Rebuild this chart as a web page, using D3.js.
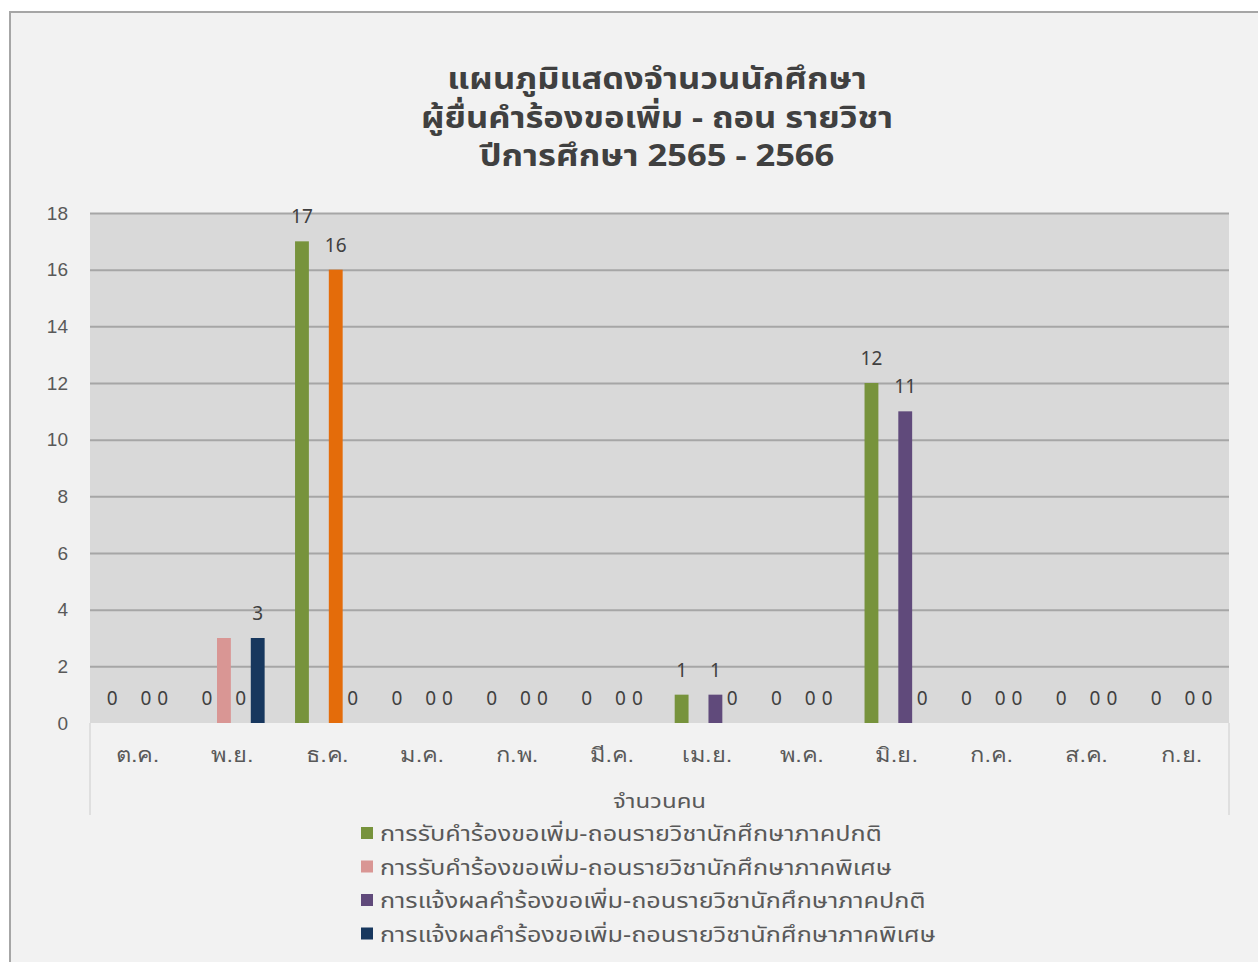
<!DOCTYPE html>
<meta charset="utf-8">
<style>
  body { margin: 0; background: #fff; }
  svg { display: block; font-family: Tahoma, "Noto Sans", "Noto Sans Thai", sans-serif; }
</style>
<body>
<div id="chart"></div>
<script src="https://d3js.org/d3.v7.min.js"></script>
<script>

// data
var months = ["ต.ค.", "พ.ย.", "ธ.ค.", "ม.ค.", "ก.พ.", "มี.ค.", "เม.ย.", "พ.ค.", "มิ.ย.", "ก.ค.", "ส.ค.", "ก.ย."];
var seriesNames = [
  "การรับคำร้องขอเพิ่ม-ถอนรายวิชานักศึกษาภาคปกติ",
  "การรับคำร้องขอเพิ่ม-ถอนรายวิชานักศึกษาภาคพิเศษ",
  "การแจ้งผลคำร้องขอเพิ่ม-ถอนรายวิชานักศึกษาภาคปกติ",
  "การแจ้งผลคำร้องขอเพิ่ม-ถอนรายวิชานักศึกษาภาคพิเศษ"
];
var regularIn  = [0, 0, 17, 0, 0, 0, 1, 0, 12, 0, 0, 0];
var specialIn  = [0, 3, 0, 0, 0, 0, 0, 0, 0, 0, 0, 0];
var regularOut = [0, 0, 16, 0, 0, 0, 1, 0, 11, 0, 0, 0];
var specialOut = [0, 3, 0, 0, 0, 0, 0, 0, 0, 0, 0, 0];
var seriesColors = ["#77933c", "#d99694", "#604a7b", "#17375e"];
var showLabels = [true, false, true, true];
var yTicks = [0, 2, 4, 6, 8, 10, 12, 14, 16, 18];
var titleLines = ["แผนภูมิแสดงจำนวนนักศึกษา", "ผู้ยื่นคำร้องขอเพิ่ม - ถอน รายวิชา", "ปีการศึกษา 2565 - 2566"];
var axisTitle = "จำนวนคน";

var allSeries = [regularIn, specialIn, regularOut, specialOut];

var W = 1258, H = 962;
var plot = {left: 90, right: 1229, top: 213, bottom: 723};

// the Thai fallback font is narrower than the original one, so stretch text a bit
function widen(sel, k) {
  sel.each(function() {
    var n = this.getComputedTextLength();
    d3.select(this).attr("textLength", n * k).attr("lengthAdjust", "spacingAndGlyphs");
  });
}

var svg = d3.select("#chart").append("svg")
  .attr("width", W)
  .attr("height", H);

// chart area
svg.append("rect")
  .attr("x", 10).attr("y", 12)
  .attr("width", W + 20).attr("height", H + 20)
  .attr("fill", "#f2f2f2")
  .attr("stroke", "#a6a6a6")
  .attr("stroke-width", 2);

// title
svg.append("g").selectAll("text")
  .data(titleLines)
  .enter().append("text")
  .attr("x", 657)
  .attr("y", function(d, i) { return 89 + i * 38.5; })
  .attr("text-anchor", "middle")
  .style("font-size", "30px")
  .style("font-weight", "bold")
  .style("fill", "#404040")
  .text(function(d) { return d; })
  .call(widen, 1.15);

// scales
var x0 = d3.scaleBand()
  .domain(months)
  .range([plot.left, plot.right]);

var x1 = d3.scaleBand()
  .domain(d3.range(allSeries.length))
  .range([0, x0.bandwidth()])
  .paddingInner(0.18)
  .paddingOuter(0.9);

var y = d3.scaleLinear()
  .domain([0, 18])
  .range([plot.bottom, plot.top]);

// plot background
svg.append("rect")
  .attr("x", plot.left).attr("y", plot.top)
  .attr("width", plot.right - plot.left)
  .attr("height", plot.bottom - plot.top)
  .attr("fill", "#d9d9d9");

// gridlines
svg.append("g")
  .attr("transform", "translate(" + plot.left + ",0)")
  .call(d3.axisLeft(y).tickValues(yTicks.slice(1)).tickSize(-(plot.right - plot.left)).tickFormat(""))
  .call(function(g) { g.select(".domain").remove(); })
  .selectAll("line")
  .attr("stroke", "#a6a6a6")
  .attr("stroke-width", 2);

// y labels
svg.append("g")
  .attr("transform", "translate(" + plot.left + ",0)")
  .call(d3.axisLeft(y).tickValues(yTicks).tickSize(0).tickPadding(22))
  .call(function(g) { g.select(".domain").remove(); })
  .selectAll("text")
  .style("font-size", "19px")
  .style("font-family", "inherit")
  .attr("fill", "#595959");

// bars
var groups = svg.append("g").selectAll("g")
  .data(months)
  .enter().append("g")
  .attr("transform", function(d) { return "translate(" + x0(d) + ",0)"; });

var cells = groups.selectAll("g")
  .data(function(m, mi) {
    return allSeries.map(function(s, si) { return {s: si, m: mi, v: s[mi]}; });
  })
  .enter().append("g");

cells.append("rect")
  .attr("x", function(d) { return x1(d.s); })
  .attr("y", function(d) { return y(d.v); })
  .attr("width", x1.bandwidth())
  .attr("height", function(d) { return y(0) - y(d.v); })
  .attr("fill", function(d) {
    // the December bar of this series is highlighted orange in the original
    if (d.s === 2 && months[d.m] === "ธ.ค.") return "#e46c0a";
    return seriesColors[d.s];
  });

cells.filter(function(d) { return showLabels[d.s]; })
  .append("text")
  .attr("x", function(d) { return x1(d.s) + x1.bandwidth() / 2; })
  .attr("y", function(d) { return y(d.v) - 18; })
  .attr("text-anchor", "middle")
  .style("font-size", "19px")
  .style("fill", "#404040")
  .text(function(d) { return d.v; });

// category axis band
var band = svg.append("g");
band.append("line")
  .attr("x1", plot.left).attr("x2", plot.left)
  .attr("y1", plot.bottom).attr("y2", 815)
  .attr("stroke", "#d9d9d9").attr("stroke-width", 1.5);
band.append("line")
  .attr("x1", plot.right).attr("x2", plot.right)
  .attr("y1", plot.bottom).attr("y2", 815)
  .attr("stroke", "#d9d9d9").attr("stroke-width", 1.5);

svg.append("g")
  .attr("transform", "translate(0," + plot.bottom + ")")
  .call(d3.axisBottom(x0).tickSize(0).tickPadding(25))
  .call(function(g) { g.select(".domain").remove(); })
  .selectAll("text")
  .style("font-size", "20px")
  .style("font-family", "inherit")
  .attr("fill", "#595959")
  .call(widen, 1.18);

svg.append("text")
  .attr("x", (plot.left + plot.right) / 2)
  .attr("y", 808)
  .attr("text-anchor", "middle")
  .style("font-size", "20px")
  .style("fill", "#595959")
  .text(axisTitle)
  .call(widen, 1.2);

// legend
var legend = svg.append("g").selectAll("g")
  .data(seriesNames)
  .enter().append("g")
  .attr("transform", function(d, i) { return "translate(361," + (833 + i * 33.5) + ")"; });

legend.append("rect")
  .attr("x", 0).attr("y", -6)
  .attr("width", 12).attr("height", 12)
  .attr("fill", function(d, i) { return seriesColors[i]; });

legend.append("text")
  .attr("x", 19)
  .attr("y", 8)
  .style("font-size", "21px")
  .style("fill", "#595959")
  .text(function(d) { return d; })
  .call(widen, 1.2);

</script>
</body>
